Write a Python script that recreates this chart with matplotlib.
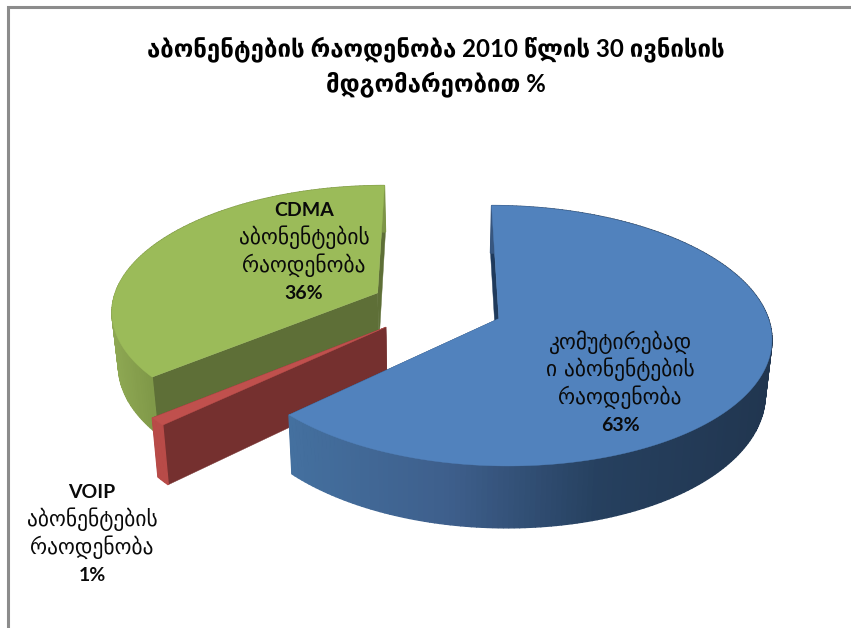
import numpy as np
import matplotlib
matplotlib.use('Agg')
import matplotlib.pyplot as plt
from matplotlib.colors import to_rgb

TITLE = ['აბონენტების რაოდენობა 2010 წლის 30 ივნისის', 'მდგომარეობით %']

# pie order is counter clockwise from the top
shares = [36, 1, 63]
slice_names = ['green', 'red', 'blue']
top_colors = ['#9bbb59', '#c0504d', '#5182bd']
cut_colors = ['#5e6f37', '#75302f', '#1f3a5c']
explode = 0.25

label_first = ['CDMA', 'VOIP', 'კომუტირებად']
label_second = ['აბონენტების', 'აბონენტების', 'ი აბონენტების']
label_third = ['რაოდენობა', 'რაოდენობა', 'რაოდენობა']
label_pct = ['36%', '1%', '63%']

# fake 3d camera, all in picture pixels
X0, Y0 = 437, 306
A, B = 266, 124.6
K = 0.1307
DEPTH = 53
SHRINK = 0.98

wall_stops = {
    'green': ([113, 160], ['#8ea853', '#7d9546']),
    'red': ([150, 170], ['#b84b48', '#b84b48']),
    'blue': ([290, 450, 600, 770], ['#44709f', '#3e5f8c', '#26405f', '#213650']),
}


def project(u, v, low=False):
    w = 1 + K * v
    x = A * u / w
    y = B * v / w
    if low:
        return X0 + x * SHRINK, Y0 - y + DEPTH / w
    return X0 + x, Y0 - y


def wall_color(name, x):
    xs, cols = wall_stops[name]
    rgb = np.array([to_rgb(c) for c in cols])
    return [np.interp(x, xs, rgb[:, i]) for i in range(3)]


fig = plt.figure(figsize=(8.51, 6.28), dpi=100)
ax = fig.add_axes([0, 0, 1, 1])
ax.set_xlim(0, 851)
ax.set_ylim(628, 0)
ax.axis('off')

# chart border, only top and left are inside the crop
ax.plot([8, 8, 851], [628, 7, 7], color='#8c8c8c', lw=2.2, solid_joinstyle='miter')

start = 90.0
for i, share in enumerate(shares):
    sweep = share * 3.6
    name = slice_names[i]
    mid = np.radians(start + sweep / 2)
    cu, cv = explode * np.cos(mid), explode * np.sin(mid)
    t = np.radians(np.linspace(start, start + sweep, max(int(sweep), 2) + 1))
    u, v = cu + np.cos(t), cv + np.sin(t)

    # cut faces first, front parts get painted over them
    for k in (0, -1):
        ax_top = project(np.array([cu, u[k]]), np.array([cv, v[k]]))
        ax_low = project(np.array([u[k], cu]), np.array([v[k], cv]), low=True)
        ax.fill(np.r_[ax_top[0], ax_low[0]], np.r_[ax_top[1], ax_low[1]],
                color=cut_colors[i], lw=0.3)

    # outer wall as small strips for the gradient
    xt, yt = project(u, v)
    xb, yb = project(u, v, low=True)
    for j in range(len(t) - 1):
        col = wall_color(name, (xt[j] + xt[j + 1]) / 2)
        ax.fill([xt[j], xt[j + 1], xb[j + 1], xb[j]], [yt[j], yt[j + 1], yb[j + 1], yb[j]],
                color=col, lw=1.0)

    ax.fill(*project(np.r_[cu, u], np.r_[cv, v]), color=top_colors[i], lw=0.3)
    start += sweep

ax.text(436, 49, TITLE[0], ha='center', va='center', fontsize=17.3, weight='bold',
        family=['Lato', 'DejaVu Sans'])
ax.text(436, 84, TITLE[1], ha='center', va='center', fontsize=17.3, weight='bold',
        family=['Lato', 'DejaVu Sans'])

label_x = [304, 92, 620]
label_y = [210, 492, 342]
for i in range(3):
    lines = [label_first[i], label_second[i], label_third[i], label_pct[i]]
    for n, line in enumerate(lines):
        latin = line.isascii()
        ax.text(label_x[i], label_y[i] + n * 27.7, line, ha='center', va='center',
                fontsize=14 if latin else 15.5, weight='bold' if latin else 'normal',
                family='Lato' if latin else 'DejaVu Sans', color='#0a0a0a')

fig.savefig('out.png', dpi=100)
